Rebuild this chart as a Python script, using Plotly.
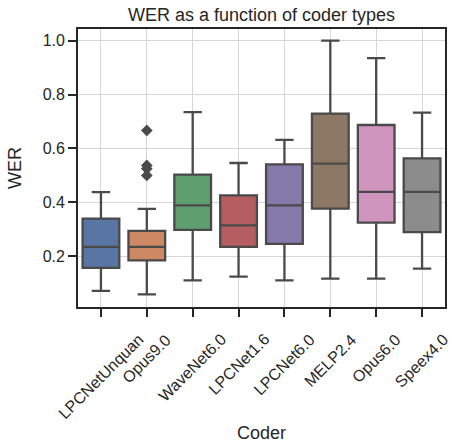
import plotly.graph_objects as go

coders = ["LPCNetUnquan", "Opus9.0", "WaveNet6.0", "LPCNet1.6",
          "LPCNet6.0", "MELP2.4", "Opus6.0", "Speex4.0"]
lower_whisker = [0.072, 0.059, 0.111, 0.125, 0.111, 0.117, 0.117, 0.154]
q1_vals = [0.157, 0.185, 0.298, 0.235, 0.246, 0.377, 0.325, 0.290]
median_vals = [0.235, 0.235, 0.389, 0.315, 0.389, 0.544, 0.439, 0.439]
q3_vals = [0.340, 0.294, 0.503, 0.426, 0.541, 0.729, 0.687, 0.563]
upper_whisker = [0.438, 0.376, 0.735, 0.546, 0.632, 1.0, 0.935, 0.733]
outlier_coder = ["Opus9.0", "Opus9.0", "Opus9.0", "Opus9.0"]
outlier_wer = [0.667, 0.537, 0.525, 0.500]

colors = ["#5975a4", "#cc8963", "#5f9e6e", "#b55d60",
          "#857aab", "#8d7866", "#d095bf", "#8c8c8c"]
line_col = "#4a4a4a"
text_col = "#262626"
FONT = "Liberation Sans, Arial, sans-serif"

fig = go.Figure()
for i, c in enumerate(coders):
    fig.add_trace(go.Box(
        x=[c], q1=[q1_vals[i]], median=[median_vals[i]], q3=[q3_vals[i]],
        lowerfence=[lower_whisker[i]], upperfence=[upper_whisker[i]],
        fillcolor=colors[i], line=dict(color=line_col, width=2.3),
        width=0.8, whiskerwidth=0.5, boxpoints=False, showlegend=False,
        hoverinfo="skip",
    ))

fig.add_trace(go.Scatter(
    x=outlier_coder, y=outlier_wer, mode="markers",
    marker=dict(symbol="diamond", size=9, color=line_col),
    showlegend=False, hoverinfo="skip",
))

# rotated category labels centred under each tick (matplotlib style)
for c in coders:
    fig.add_annotation(
        x=c, xref="x", y=0, yref="paper", text=c, textangle=-45,
        xanchor="center", yanchor="top", yshift=-21, showarrow=False,
        font=dict(size=16, color=text_col, family=FONT),
    )

fig.update_layout(
    width=456, height=447,
    margin=dict(l=78, r=9, t=29, b=139),
    paper_bgcolor="white", plot_bgcolor="white",
    boxmode="overlay",
    font=dict(family=FONT, color=text_col, size=16),
    title=dict(text="WER as a function of coder types", x=0.5, xref="paper",
               xanchor="center", y=1 - 14.5 / 447, yanchor="middle",
               font=dict(size=18, color=text_col)),
)
fig.update_xaxes(
    type="category", categoryorder="array", categoryarray=coders,
    range=[-0.5, 7.5], showticklabels=False,
    showgrid=True, gridcolor="#d6d6d6", gridwidth=1,
    showline=True, mirror=True, linecolor=text_col, linewidth=1.8,
    ticks="outside", ticklen=8, tickwidth=1.8, tickcolor=text_col,
    title=dict(text="Coder", font=dict(size=18), standoff=110),
    zeroline=False,
)
fig.update_yaxes(
    range=[0.012, 1.043],
    tickvals=[0.2, 0.4, 0.6, 0.8, 1.0], ticktext=["0.2", "0.4", "0.6", "0.8", "1.0"],
    showgrid=True, gridcolor="#d6d6d6", gridwidth=1,
    showline=True, mirror=True, linecolor=text_col, linewidth=1.8,
    ticks="outside", ticklen=8, tickwidth=1.8, tickcolor=text_col,
    tickfont=dict(size=16),
    title=dict(text="WER", font=dict(size=18), standoff=16),
    zeroline=False,
)

fig.write_html("out.html", config={"displayModeBar": False},
               post_script="document.body.style.margin='0';")
